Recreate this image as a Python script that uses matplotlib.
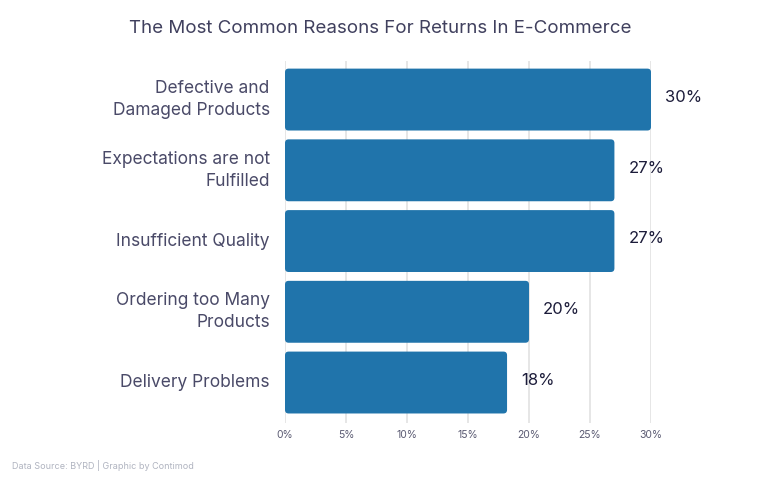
import matplotlib.pyplot as plt
from matplotlib.patches import FancyBboxPatch

# data
reasons = ["Defective and\nDamaged Products", "Expectations are not\nFulfilled",
           "Insufficient Quality", "Ordering too Many\nProducts", "Delivery Problems"]
shares = [30, 27, 27, 20, 18.2]
share_labels = ["30%", "27%", "27%", "20%", "18%"]
xticks = [0, 5, 10, 15, 20, 25, 30]

plt.rcParams['font.family'] = ['Inter', 'DejaVu Sans']

fig = plt.figure(figsize=(7.6, 4.8), dpi=100)
ax = fig.add_axes([0.375, 0.11875, 0.4816, 0.754])

ypos = list(range(len(reasons)))
bars = ax.barh(ypos, shares, height=0.875, color='none')
ax.set_xlim(0, 30)
ax.set_ylim(len(reasons) - 0.428, -0.544)

# rounded bars drawn over the barh geometry
px_x = ax.transData.transform((1, 0))[0] - ax.transData.transform((0, 0))[0]
px_y = abs(ax.transData.transform((0, 1))[1] - ax.transData.transform((0, 0))[1])
for b in bars:
    fb = FancyBboxPatch((b.get_x(), b.get_y()), b.get_width(), b.get_height(),
                        boxstyle="round,pad=0,rounding_size=0.3",
                        mutation_aspect=px_x / px_y,
                        fc='#2074ab', ec='none', zorder=3)
    ax.add_patch(fb)

for y, v, lab in zip(ypos, shares, share_labels):
    ax.text(v + 1.15, y - 0.03, lab, va='center', ha='left', fontsize=12,
            color='#1c1c3a')

ax.set_yticks(ypos)
ax.set_yticklabels(reasons, fontsize=12.5, color='#4a4a68', linespacing=1.4,
                   va='center')
ax.tick_params(axis='y', length=0, pad=11)
ax.set_xticks(xticks)
ax.set_xticklabels([f"{t}%" for t in xticks], fontsize=7.5, color='#5a5a72')
ax.tick_params(axis='x', length=0, pad=5)
ax.grid(axis='x', color='#e2e2e2', lw=1.2, zorder=0)
ax.set_axisbelow(True)
for s in ax.spines.values():
    s.set_visible(False)

fig.text(0.5, 0.94, "The Most Common Reasons For Returns In E-Commerce",
         ha='center', va='center', fontsize=13.5, color='#40405e')
fig.text(0.016, 0.031, "Data Source: BYRD | Graphic by Contimod",
         ha='left', va='center', fontsize=6.5, color='#b0b4c0')

fig.savefig("out.png", dpi=100)
